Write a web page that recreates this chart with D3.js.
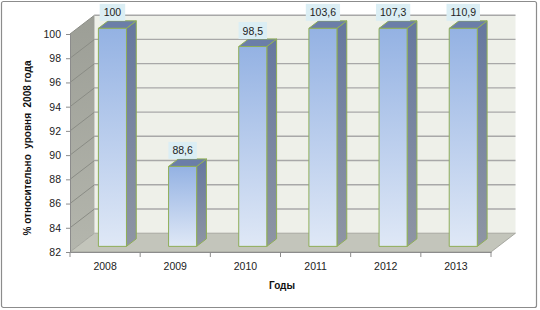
<!DOCTYPE html>
<html><head><meta charset="utf-8">
<script src="https://cdn.jsdelivr.net/npm/d3@7"></script>
<style>body{margin:0;background:#fff}svg{display:block}</style>
</head><body>
<script>
const years = ["2008","2009","2010","2011","2012","2013"];
const values = [100, 88.6, 98.5, 103.6, 107.3, 110.9];
const yTicks = [82,84,86,88,90,92,94,96,98,100];
const yTitle = "% относительно  уровня  2008 года";
const xTitle = "Годы";

const W=540,H=310;
const svg=d3.select("body").append("svg").attr("width",W).attr("height",H);
const defs=svg.append("defs");
function lg(id,stops,vertical=true){
  const g=defs.append("linearGradient").attr("id",id).attr("x1",0).attr("y1",0).attr("x2",vertical?0:1).attr("y2",vertical?1:0);
  stops.forEach(s=>g.append("stop").attr("offset",s[0]).attr("stop-color",s[1]));
}
lg("front",[[0,"#94b2e3"],[1,"#dfe8f6"]]);
lg("side",[[0,"#66789f"],[1,"#8e95a3"]]);
lg("lwall",[[0,"#9c9e96"],[1,"#b4b6ad"]]);

svg.append("rect").attr("x",1.5).attr("y",1.5).attr("width",535).attr("height",306).attr("rx",2)
  .attr("fill","#fff").attr("stroke","#8c8c8c").attr("stroke-width",1.2);

const DX=24.5, DY=-18.8;
const x=d3.scaleBand().domain(years).range([70,491]).paddingInner(0.6).paddingOuter(0.3);
const y=d3.scaleLinear().domain([82,100]).range([252,34]);
const P=(px,py,d)=>[px+DX*d,py+DY*d];
const line=d3.line();
const poly=pts=>line(pts)+"Z";

// back wall
svg.append("path").attr("d",poly([P(70,y(100),1),P(491,y(100),1),P(491,y(82),1),P(70,y(82),1)]))
  .attr("fill","#eef0e9");
// left wall
svg.append("path").attr("d",poly([P(70,y(100),0),P(70,y(100),1),P(70,y(82),1),P(70,y(82),0)]))
  .attr("fill","url(#lwall)");
// floor
svg.append("path").attr("d",poly([P(70,y(82),0),P(491,y(82),0),P(491,y(82),1),P(70,y(82),1)]))
  .attr("fill","#c3c5bb").attr("stroke","#9a9c94").attr("stroke-width",0.8);

// gridlines
yTicks.filter(t=>t>82).forEach(t=>{
  svg.append("path").attr("d",line([P(70,y(t),1),P(491,y(t),1)])).attr("stroke","#a8a8a8").attr("stroke-width",1.4).attr("fill","none");
  svg.append("path").attr("d",line([P(70,y(t),0),P(70,y(t),1)])).attr("stroke","#8a8c85").attr("stroke-width",1).attr("fill","none");
});

// y axis
const yAxis=d3.axisLeft(y).tickValues(yTicks).tickSize(4).tickPadding(5).tickFormat(d3.format("d"));
const ga=svg.append("g").attr("transform","translate(70,0)").call(yAxis);
ga.select(".domain").attr("stroke","#8c8c8c");
ga.selectAll(".tick line").attr("stroke","#8c8c8c");
ga.selectAll("text").attr("font-family","Liberation Sans, Arial, sans-serif").attr("font-size",10.5).attr("fill","#222");

// x axis
const xAxis=d3.axisBottom(x).tickSize(0).tickPadding(11);
const gx=svg.append("g").attr("transform","translate(0,252)").call(xAxis);
gx.select(".domain").attr("stroke","#8c8c8c");
gx.selectAll("text").attr("font-family","Liberation Sans, Arial, sans-serif").attr("font-size",10.5).attr("fill","#222");
const bounds=[70].concat(years.map(d=>x(d)+x.bandwidth()+x.step()*0.3));
bounds.forEach(b=>svg.append("line").attr("x1",b).attr("x2",b).attr("y1",252).attr("y2",257).attr("stroke","#8c8c8c"));

// bars
const d0=0.3,d1=0.7;
const bw=x.bandwidth();
years.forEach((yr,i)=>{
  const v=Math.min(values[i],100);
  const x0=x(yr), x1=x0+bw, yt=y(v), yb=y(82);
  const g=svg.append("g").attr("stroke","#8fae57").attr("stroke-width",1).attr("stroke-linejoin","round");
  g.append("path").attr("d",poly([P(x1,yt,d0),P(x1,yt,d1),P(x1,yb,d1),P(x1,yb,d0)])).attr("fill","url(#side)");
  g.append("path").attr("d",poly([P(x0,yt,d0),P(x1,yt,d0),P(x1,yt,d1),P(x0,yt,d1)])).attr("fill","#6b7ea8");
  g.append("path").attr("d",poly([P(x0,yt,d0),P(x1,yt,d0),P(x1,yb,d0),P(x0,yb,d0)])).attr("fill","url(#front)");
  // label
  const lbl=String(values[i]).replace(".",",");
  const cx=P(x0+bw/2,yt,d0)[0];
  const by=P(x0,yt,d1)[1];
  const t=svg.append("text").attr("x",cx).attr("y",by-4.5).attr("text-anchor","middle")
    .attr("font-family","Liberation Sans, Arial, sans-serif").attr("font-size",10.5).attr("fill","#222").text(lbl);
  const tw=t.node().getComputedTextLength();
  svg.insert("rect",()=>t.node()).attr("x",cx-tw/2-4).attr("y",by-17).attr("width",tw+8).attr("height",17).attr("fill","#dbeef4");
});

// titles
svg.append("text").attr("x",282).attr("y",289).attr("text-anchor","middle")
  .attr("font-family","Liberation Sans, Arial, sans-serif").attr("font-weight","bold").attr("font-size",10).attr("fill","#111").text(xTitle);
svg.append("text").attr("transform","translate(31,148) rotate(-90)").attr("text-anchor","middle")
  .attr("font-family","Liberation Sans, Arial, sans-serif").attr("font-weight","bold").attr("font-size",10).attr("fill","#111")
  .attr("xml:space","preserve").style("white-space","pre").text(yTitle);
</script>
</body></html>
